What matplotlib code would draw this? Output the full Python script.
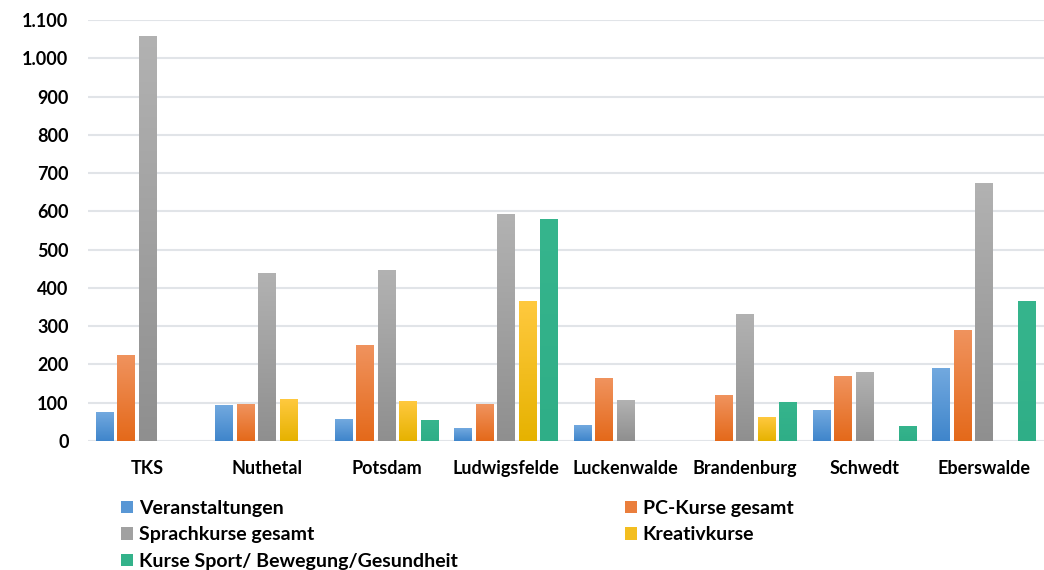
import numpy as np
import matplotlib.pyplot as plt
from matplotlib.colors import LinearSegmentedColormap
from matplotlib.patches import Patch
from matplotlib.ticker import FuncFormatter

orte = ['TKS', 'Nuthetal', 'Potsdam', 'Ludwigsfelde', 'Luckenwalde',
        'Brandenburg', 'Schwedt', 'Eberswalde']

veranstaltungen = [75, 93, 57, 33, 41, 0, 80, 190]
pc_kurse = [224, 96, 250, 96, 164, 119, 169, 289]
sprachkurse = [1059, 440, 446, 592, 106, 331, 179, 673]
kreativkurse = [0, 109, 104, 365, 0, 62, 0, 0]
sport = [0, 0, 54, 580, 0, 103, 40, 367]

serien = [
    ('Veranstaltungen', veranstaltungen, '#72a9df', '#3f85cb'),
    ('PC-Kurse gesamt', pc_kurse, '#f0935e', '#e4691a'),
    ('Sprachkurse gesamt', sprachkurse, '#b2b2b2', '#8f8f8f'),
    ('Kreativkurse', kreativkurse, '#ffc93f', '#e6b200'),
    ('Kurse Sport/ Bewegung/Gesundheit', sport, '#36b58d', '#2fae87'),
]

plt.rcParams['font.family'] = ['Lato', 'DejaVu Sans']
plt.rcParams['font.weight'] = 'bold'

fig = plt.figure(figsize=(10.44, 5.70), dpi=100)
ax = fig.add_axes([88 / 1044, 1 - 441 / 570, 1 - 88 / 1044, 421 / 570])

x = np.arange(len(orte))
slot = 0.18
breite = 0.15
grad = np.linspace(0, 1, 256).reshape(-1, 1)

handles = []
for i, (name, werte, oben, unten) in enumerate(serien):
    pos = x + (i - 2) * slot
    bars = ax.bar(pos, werte, breite, color='none', edgecolor='none', zorder=3)
    cmap = LinearSegmentedColormap.from_list(name, [unten, oben])
    for b in bars:
        h = b.get_height()
        if h <= 0:
            continue
        x0 = b.get_x()
        img = ax.imshow(grad, cmap=cmap, origin='lower', aspect='auto',
                        extent=(x0, x0 + breite, 0, h), zorder=3)
        img.set_clip_path(b)
    handles.append(Patch(facecolor=cmap(0.5), label=name))

ax.set_xlim(-0.5, len(orte) - 0.5)
ax.set_ylim(0, 1100)
ax.set_yticks(np.arange(0, 1101, 100))
ax.yaxis.set_major_formatter(FuncFormatter(lambda v, p: f'{int(v):,}'.replace(',', '.')))
ax.set_xticks(x)
ax.set_xticklabels(orte)
ax.tick_params(axis='both', length=0, labelsize=13, labelcolor='black')
ax.tick_params(axis='x', pad=14)
ax.tick_params(axis='y', pad=14)
ax.grid(axis='y', color='#e1e4e8', linewidth=1.5, zorder=0)
ax.set_axisbelow(True)
for s in ax.spines.values():
    s.set_visible(False)

reihenfolge = [0, 2, 4, 1, 3]
fig.legend([handles[k] for k in reihenfolge], [handles[k].get_label() for k in reihenfolge],
           loc='upper left', bbox_to_anchor=(121 / 1044, 1 - 500 / 570), ncol=2,
           frameon=False, fontsize=14, handlelength=0.62, handleheight=0.62,
           handletextpad=0.3, labelspacing=0.48, columnspacing=8.6,
           borderaxespad=0, borderpad=0)

fig.savefig('out.png', dpi=100)
